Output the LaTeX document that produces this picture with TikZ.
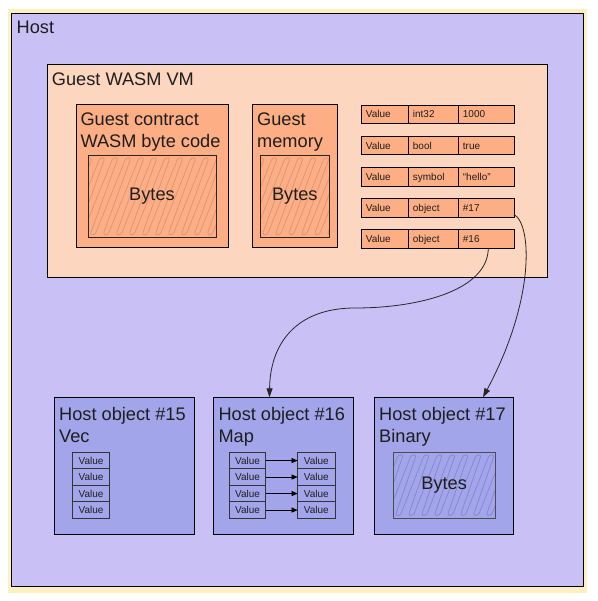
\documentclass[tikz,border=0pt]{standalone}
\usepackage{fontspec}
\setmainfont{Liberation Sans}
\usetikzlibrary{arrows.meta,calc}
\definecolor{framey}{HTML}{FCEFC2}
\definecolor{hostbg}{HTML}{C9C1F5}
\definecolor{vmbg}{HTML}{FDD6C0}
\definecolor{orangebox}{HTML}{FDAE84}
\definecolor{hobj}{HTML}{A2A5E9}
\definecolor{hatchor}{HTML}{D99577}
\definecolor{hatchbl}{HTML}{8586CC}
\definecolor{txt}{HTML}{1E1E1E}
\newcommand\hatchfill[6]{%
  \begin{scope}
    \clip (#1,#2) rectangle (#3,#4);
    \draw[#5, line width=0.7pt, rounded corners=2.5pt]
      ({#1-45},{#4-2.5})
      \foreach \k in {0,...,16}{
        -- ({#1-45+13*\k},{#4-2.5})
        -- ({#1-45+13*\k+#6},{#2+2.5})
        -- ({#1-45+13*\k+#6+5},{#2+2.5})
        -- ({#1-45+13*\k+8},{#4-2.5})
      };
  \end{scope}}
\newcommand\valrow[4]{%
  \node[vc, minimum width=47pt] (#1a) at (361.7,#2) {};
  \node[vc, minimum width=50pt] (#1b) at (408.7,#2) {};
  \node[vc, minimum width=55.6pt] (#1c) at (458.7,#2) {};
  \node[vt] at ($(#1a.west)+(4,3.6)$) {Value};
  \node[vt] at ($(#1b.west)+(4,3.6)$) {#3};
  \node[vt] at ($(#1c.west)+(4,3.6)$) {#4};}
\begin{document}
\begin{tikzpicture}[x=1pt,y=-1pt,
  box/.style={draw=black, line width=0.8pt, anchor=north west, inner sep=0pt, outer sep=0pt},
  lbl/.style={anchor=base west, inner sep=0pt, text=txt, align=left, font=\fontsize{18.2}{22}\selectfont},
  vc/.style={draw=black, line width=0.7pt, fill=orangebox, anchor=north west, minimum height=18.7pt, inner sep=0pt, outer sep=0pt},
  vt/.style={anchor=base west, inner sep=0pt, text=txt, font=\fontsize{10}{12}\selectfont},
  sc/.style={draw=black!80, line width=0.7pt, anchor=north west, minimum width=37.5pt, minimum height=16.5pt, inner sep=0pt, outer sep=0pt, text=txt, font=\fontsize{10}{12}\selectfont},
  conn/.style={draw=black!85, line width=0.8pt, -{Triangle[length=9pt,width=6pt]}},
  small/.style={draw=black, line width=0.7pt, -{Triangle[length=6pt,width=5pt]}}]
\useasboundingbox (0,0) rectangle (597,601);
\fill[white] (0,0) rectangle (597,601);
\fill[framey] (8,9.5) rectangle (586.5,592.5);
% Host
\node[box, fill=hostbg, minimum width=572pt, minimum height=573pt] (host) at (11,13) {};
\node[lbl] (hostl) at (16.5,34) {Host};
% Guest VM
\node[box, fill=vmbg, minimum width=499.6pt, minimum height=213pt] (vm) at (47.7,64.3) {};
\node[lbl] (vml) at (51.7,86) {Guest WASM VM};
% Guest contract
\node[box, fill=orangebox, minimum width=152pt, minimum height=143pt] (gc) at (76.3,104.3) {};
\node[lbl] (gcl) at (80.3,147.7) {Guest contract\\WASM byte code};
\hatchfill{88}{155.3}{216}{237.3}{hatchor}{31}
\node[box, draw=black!85, minimum width=128pt, minimum height=82pt, font=\fontsize{18.2}{21}\selectfont, text=txt] (b1) at (88,155.3) {Bytes};
% Guest memory
\node[box, fill=orangebox, minimum width=85pt, minimum height=143pt] (gm) at (252.3,104.3) {};
\node[lbl] (gml) at (257,147.7) {Guest\\memory};
\hatchfill{260.3}{155.3}{329.3}{237.3}{hatchor}{31}
\node[box, draw=black!85, minimum width=69pt, minimum height=82pt, font=\fontsize{18.2}{21}\selectfont, text=txt] (b2) at (260.3,155.3) {Bytes};
% Value rows
\valrow{ra}{105}{int32}{1000}
\valrow{rb}{136.1}{bool}{true}
\valrow{rc}{167.2}{symbol}{“hello”}
\valrow{rd}{198.3}{object}{\#17}
\valrow{re}{229.4}{object}{\#16}
% Host objects
\node[box, fill=hobj, minimum width=139.7pt, minimum height=137pt] (h15) at (54.3,397.3) {};
\node[lbl] (h15l) at (59,442) {Host object \#15\\Vec};
\node[box, fill=hobj, minimum width=140.4pt, minimum height=137pt] (h16) at (213.3,397.3) {};
\node[lbl] (h16l) at (218.3,442) {Host object \#16\\Map};
\node[box, fill=hobj, minimum width=139pt, minimum height=137pt] (h17) at (374.3,397.3) {};
\node[lbl] (h17l) at (379,442) {Host object \#17\\Binary};
% Vec values
\node[sc] (v1) at (72.3,452.3) {Value};
\node[sc] (v2) at (72.3,468.8) {Value};
\node[sc] (v3) at (72.3,485.3) {Value};
\node[sc] (v4) at (72.3,501.8) {Value};
% Map values
\node[sc, minimum width=36.5pt] (mk1) at (229.3,452.3) {Value};
\node[sc, minimum width=36.5pt] (mk2) at (229.3,468.8) {Value};
\node[sc, minimum width=36.5pt] (mk3) at (229.3,485.3) {Value};
\node[sc, minimum width=36.5pt] (mk4) at (229.3,501.8) {Value};
\node[sc, minimum width=37.5pt] (mv1) at (297.6,452.3) {Value};
\node[sc, minimum width=37.5pt] (mv2) at (297.6,468.8) {Value};
\node[sc, minimum width=37.5pt] (mv3) at (297.6,485.3) {Value};
\node[sc, minimum width=37.5pt] (mv4) at (297.6,501.8) {Value};
\draw[small] (mk1) -- (mv1);
\draw[small] (mk2) -- (mv2);
\draw[small] (mk3) -- (mv3);
\draw[small] (mk4) -- (mv4);
% Binary bytes
\hatchfill{393.3}{452.3}{495}{518}{hatchbl}{24}
\node[box, draw=black!70, minimum width=101.7pt, minimum height=65.7pt, font=\fontsize{18.2}{21}\selectfont, text=txt] (b3) at (393.3,452.3) {Bytes};
% Connectors
\coordinate (s17) at ($(rdc.south east)+(0,-2.3)$);
\coordinate (e17) at ($(h17.north west)+(108.7,0)$);
\coordinate (s16) at ($(rec.south west)+(29.6,0)$);
\coordinate (e16) at ($(h16.north west)+(56.2,0)$);
\coordinate (m16) at (355,308);
\draw[conn] (s17) .. controls (532,225) and (535,300) .. (e17);
\draw[conn] (s16) .. controls (488,290) and (420,308) .. (m16) .. controls (295,308) and (270,345) .. (e16);
\end{tikzpicture}
\end{document}
